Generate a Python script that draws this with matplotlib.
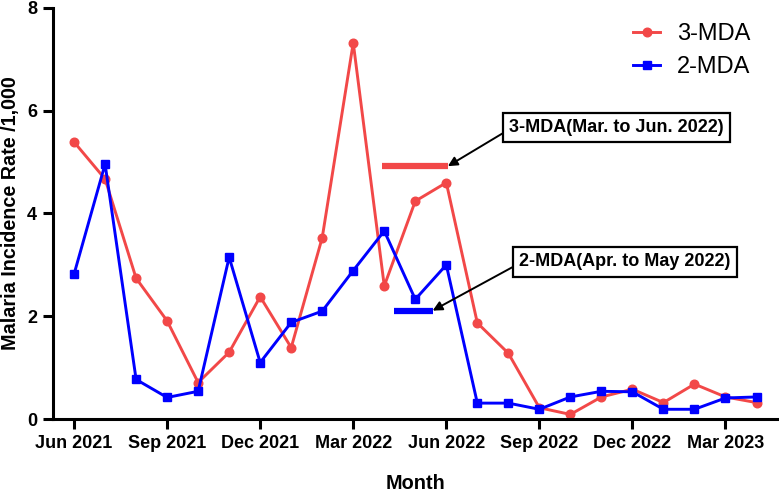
#!/usr/bin/env python3
"""
Monthly malaria incidence rate for the 3-MDA and 2-MDA areas
"""

import matplotlib
matplotlib.use('Agg')
import matplotlib.pyplot as plt

# Monthly values, Jun 2021 .. Apr 2023
months = ['Jun 2021', 'Jul 2021', 'Aug 2021', 'Sep 2021', 'Oct 2021', 'Nov 2021',
          'Dec 2021', 'Jan 2022', 'Feb 2022', 'Mar 2022', 'Apr 2022', 'May 2022',
          'Jun 2022', 'Jul 2022', 'Aug 2022', 'Sep 2022', 'Oct 2022', 'Nov 2022',
          'Dec 2022', 'Jan 2023', 'Feb 2023', 'Mar 2023', 'Apr 2023']
mda3 = [5.39, 4.67, 2.74, 1.91, 0.71, 1.30, 2.38, 1.39, 3.53, 7.32, 2.59, 4.24,
        4.60, 1.87, 1.28, 0.22, 0.09, 0.43, 0.58, 0.32, 0.68, 0.43, 0.32]
mda2 = [2.82, 4.96, 0.77, 0.42, 0.54, 3.15, 1.10, 1.88, 2.10, 2.89, 3.66, 2.33,
        3.00, 0.31, 0.31, 0.19, 0.43, 0.54, 0.53, 0.19, 0.19, 0.41, 0.43]

tick_labels = ['Jun 2021', 'Sep 2021', 'Dec 2021', 'Mar 2022',
               'Jun 2022', 'Sep 2022', 'Dec 2022', 'Mar 2023']

# MDA periods drawn as bars (month index start, end, level)
mda3_period = [9.93, 12.05]
mda3_level = 4.92
mda2_period = [10.32, 11.56]
mda2_level = 2.11

RED = '#F24848'
BLUE = '#0000FF'

plt.rcParams['font.family'] = ['Liberation Sans', 'DejaVu Sans']

fig = plt.figure(figsize=(7.79, 4.93), dpi=100)
ax = fig.add_axes([0.068, 0.150, 0.931, 0.834])

x = list(range(len(months)))
ax.plot(x, mda3, '-o', color=RED, linewidth=2.1, markersize=6.2, label='3-MDA')
ax.plot(x, mda2, '-s', color=BLUE, linewidth=2.1, markersize=5.8, label='2-MDA')

# period bars
ax.plot(mda3_period, [mda3_level, mda3_level], color=RED, linewidth=4.5,
        solid_capstyle='butt')
ax.plot(mda2_period, [mda2_level, mda2_level], color=BLUE, linewidth=4.5,
        solid_capstyle='butt')

box = dict(boxstyle='square,pad=0.35', facecolor='white', edgecolor='black',
           linewidth=1.6)
arrow = dict(arrowstyle='-|>', color='black', linewidth=1.4, mutation_scale=14,
             shrinkA=0, shrinkB=0, relpos=(0.0, 0.4))
ax.annotate('3-MDA(Mar. to Jun. 2022)', xy=(mda3_period[1], mda3_level),
            xytext=(14.03, 5.67), fontsize=13, fontweight='bold',
            va='center', ha='left', bbox=box, arrowprops=arrow)
ax.annotate('2-MDA(Apr. to May 2022)', xy=(mda2_period[1], mda2_level),
            xytext=(14.35, 3.06), fontsize=13, fontweight='bold',
            va='center', ha='left', bbox=box, arrowprops=arrow)

ax.set_xlim(-0.68, 22.7)
ax.set_ylim(0, 8)
ax.set_xticks([months.index(m) for m in tick_labels])
ax.set_xticklabels(tick_labels, fontsize=13, fontweight='bold')
ax.set_yticks([0, 2, 4, 6, 8])
ax.set_yticklabels(['0', '2', '4', '6', '8'], fontsize=13, fontweight='bold')

ax.set_xlabel('Month', fontsize=14.3, fontweight='bold', labelpad=16)
ax.set_ylabel('Malaria Incidence Rate /1,000', fontsize=14.2, fontweight='bold',
              labelpad=5)

for side in ['top', 'right']:
    ax.spines[side].set_visible(False)
for side in ['left', 'bottom']:
    ax.spines[side].set_linewidth(2.2)
ax.tick_params(axis='both', width=2.2, length=7.5, pad=4)

ax.legend(loc='upper left', bbox_to_anchor=(0.787, 0.985), borderaxespad=0,
          frameon=False, fontsize=17, handlelength=1.15, handletextpad=0.7,
          labelspacing=0.45)

fig.savefig('out.png', dpi=100)
plt.close(fig)
